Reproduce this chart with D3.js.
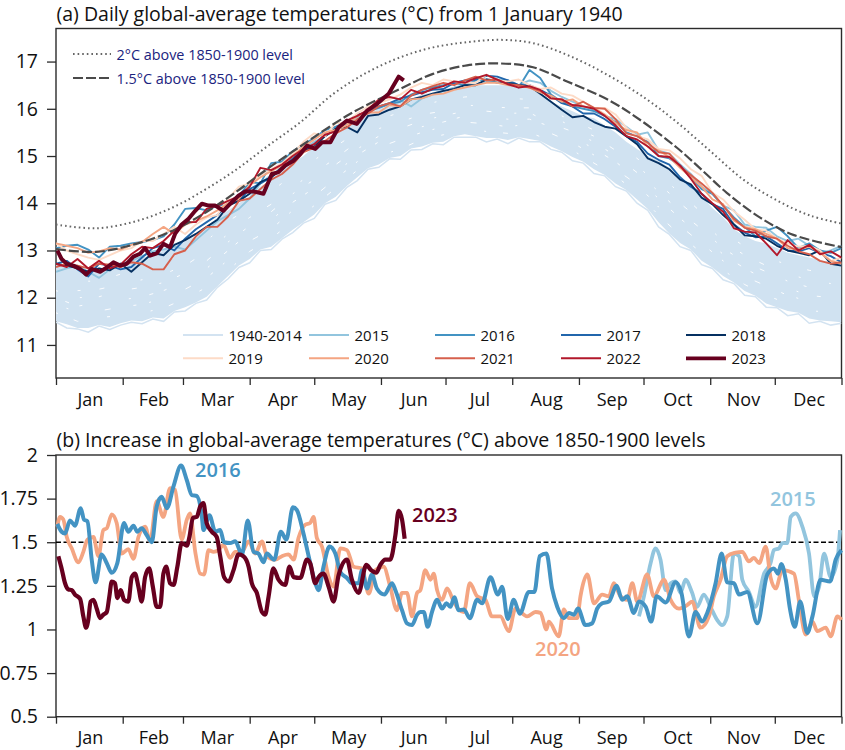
<!DOCTYPE html>
<html><head><meta charset="utf-8">
<script src="https://cdnjs.cloudflare.com/ajax/libs/d3/7.8.5/d3.min.js"></script>
<style>html,body{margin:0;padding:0;background:#fff}svg{display:block}text{font-family:"Open Sans",sans-serif;fill:#111}</style>
</head><body><svg id="c" width="845" height="750"></svg>
<script>
const monthNames=["Jan","Feb","Mar","Apr","May","Jun","Jul","Aug","Sep","Oct","Nov","Dec"];
const monthStarts=[0,31,59,90,120,151,181,212,243,273,304,334,365];
const yTicksA=[11,12,13,14,15,16,17];
const yTicksB=[0.5,0.75,1,1.25,1.5,1.75,2];
const yearsLegend=["1940-2014","2015","2016","2017","2018","2019","2020","2021","2022","2023"];
const yearColors=["#d3e3f1","#92c5de","#4393c3","#2166ac","#053061","#fddbc7","#f4a582","#d6604d","#b2182b","#67001f"];
const gridDays=d3.range(0,366,5);
const tenDays=d3.range(0,361,10);

// reference curves (day, degC)
const ref2Days=[0,18.6,37.2,54.2,69,84,98,113.4,129,144.6,160,175.2,191,206.3,221.7,238.6,257,274.5,288.4,303.9,319.4,335,350.4,365];
const ref2=[13.55,13.47,13.62,13.91,14.28,14.72,15.2,15.71,16.32,16.77,17.09,17.3,17.41,17.46,17.39,17.12,16.7,16.2,15.72,15.11,14.5,14.06,13.74,13.57];
const ref15Days=[0,18.6,37.2,54.2,69.7,84,98,113.4,136.6,159.9,175.2,191,206.3,221.7,237.5,257.4,272.8,288.4,300.7,311.7,327,342.6,365];
const ref15=[13.03,12.97,13.14,13.42,13.81,14.25,14.72,15.2,15.89,16.42,16.74,16.92,16.96,16.88,16.58,16.17,15.72,15.18,14.68,14.22,13.7,13.33,13.07];

// 1940-2014 envelope on the 5-day grid
const bandLow=[11.48,11.36,11.34,11.27,11.4,11.33,11.42,11.48,11.45,11.55,
11.5,11.7,11.72,11.88,11.95,12.22,12.4,12.64,12.74,13.0,
13.02,13.24,13.38,13.58,13.68,13.98,14.06,14.33,14.48,14.72,
14.76,14.94,14.93,15.13,15.14,15.26,15.24,15.4,15.4,15.4,
15.3,15.36,15.26,15.38,15.3,15.3,15.14,15.08,14.9,14.85,
14.63,14.58,14.35,14.26,14.0,13.85,13.5,13.34,13.08,13.0,
12.7,12.62,12.38,12.3,12.05,12.02,11.8,11.79,11.62,11.66,
11.46,11.5,11.42,11.46];
const bandFill=[11.5,11.44,11.36,11.36,11.42,11.38,11.46,11.52,11.5,11.58,
11.56,11.72,11.8,11.9,12.02,12.24,12.46,12.68,12.82,13.02,
13.08,13.26,13.44,13.6,13.76,14.0,14.14,14.36,14.55,14.74,
14.82,14.96,15.0,15.16,15.2,15.28,15.3,15.42,15.46,15.42,
15.38,15.38,15.34,15.4,15.36,15.32,15.2,15.1,14.98,14.88,
14.72,14.6,14.42,14.28,14.08,13.88,13.6,13.36,13.16,13.02,
12.78,12.64,12.46,12.32,12.14,12.04,11.88,11.8,11.72,11.68,
11.56,11.52,11.5,11.48];
const bandHigh=[12.7,12.65,12.6,12.55,12.6,12.65,12.75,12.8,12.85,12.9,
13.0,13.1,13.2,13.3,13.5,13.7,13.85,14.0,14.15,14.35,
14.5,14.7,14.85,15.0,15.2,15.3,15.45,15.6,15.75,15.9,
16.0,16.05,16.15,16.2,16.3,16.35,16.4,16.42,16.45,16.5,
16.5,16.5,16.5,16.45,16.45,16.3,16.15,16.05,15.95,15.85,
15.8,15.65,15.5,15.3,15.15,15.0,14.9,14.75,14.55,14.35,
14.15,13.9,13.7,13.45,13.3,13.2,13.15,13.05,12.95,12.9,
12.85,12.8,12.75,12.75];
// gaps between the densely packed 1940-2014 traces, on a 10-day grid
const gap1=[11.68,11.5,11.58,11.62,11.68,11.78,11.98,12.22,12.58,12.98,13.25,13.62,13.95,14.32,14.7,15.0,15.15,15.35,15.45,15.58,15.52,15.48,15.5,15.32,15.12,14.85,14.58,14.22,13.75,13.32,12.95,12.58,12.28,12.05,11.88,11.72,11.7];
const gap2=[11.85,11.7,11.72,11.8,11.86,11.98,12.18,12.42,12.8,13.2,13.45,13.85,14.15,14.52,14.88,15.18,15.35,15.5,15.62,15.72,15.68,15.62,15.68,15.48,15.28,15.02,14.72,14.4,13.92,13.52,13.15,12.78,12.45,12.25,12.05,11.92,11.85];
const gap3=[12.0,11.82,11.9,11.95,12.02,12.15,12.35,12.62,13.0,13.38,13.65,14.02,14.32,14.65,15.02,15.3,15.45,15.62,15.72,15.85,15.82,15.78,15.78,15.62,15.42,15.15,14.88,14.52,14.1,13.68,13.3,12.92,12.62,12.38,12.2,12.05,12.0];
const gap4=[12.15,12.0,12.02,12.15,12.22,12.32,12.52,12.78,13.18,13.52,13.82,14.2,14.5,14.82,15.15,15.42,15.58,15.75,15.85,15.95,15.95,15.9,15.92,15.68,15.52,15.3,15.0,14.65,14.25,13.82,13.45,13.05,12.75,12.55,12.35,12.22,12.12];
const gap5=[12.32,12.15,12.18,12.28,12.38,12.5,12.68,12.98,13.35,13.7,13.98,14.35,14.65,14.95,15.3,15.58,15.72,15.88,15.95,16.08,16.05,16.02,16.02,15.85,15.62,15.42,15.12,14.78,14.42,14.0,13.62,13.2,12.9,12.68,12.5,12.38,12.3];
const gap6=[12.48,12.35,12.35,12.5,12.6,12.75,12.95,13.2,13.62,13.9,14.25,14.6,14.92,15.2,15.52,15.78,15.92,16.08,16.18,16.25,16.28,16.22,16.2,15.95,15.75,15.55,15.28,14.95,14.6,14.22,13.8,13.4,13.08,12.85,12.7,12.58,12.5];

const a2015=[12.55,12.62,12.68,12.55,12.42,12.6,12.72,12.78,12.88,12.98,
13.02,13.08,13.02,13.22,13.42,13.62,13.75,13.88,14.1,14.42,
14.6,14.72,14.95,15.15,15.3,15.42,15.55,15.68,15.82,15.95,
16.02,16.12,16.18,16.05,16.22,16.3,16.38,16.45,16.5,16.52,
16.58,16.62,16.6,16.5,16.6,16.55,16.38,16.25,16.15,16.05,
15.98,15.85,15.78,15.62,15.45,15.5,15.12,15.05,14.82,14.62,
14.35,14.2,13.95,13.85,13.55,13.5,13.48,13.3,13.2,13.25,
13.1,12.95,13.0,13.1];
const a2016=[13.05,13.1,13.12,13.02,12.85,13.08,13.1,13.15,13.18,13.22,
13.3,13.55,13.88,13.9,13.85,13.95,13.98,14.15,14.45,14.42,
14.85,14.88,15.1,15.25,15.38,15.55,15.62,15.72,15.85,15.95,
16.02,16.1,16.15,16.3,16.4,16.45,16.5,16.55,16.5,16.6,
16.62,16.55,16.6,16.45,16.82,16.65,16.3,16.15,16.05,16.0,
15.95,15.85,15.72,15.5,15.42,15.3,15.0,14.95,14.8,14.55,
14.3,14.2,13.95,13.7,13.5,13.3,13.42,13.5,13.3,13.05,
13.15,13.0,12.95,13.05];
const a2017=[12.72,12.78,12.6,12.45,12.72,12.68,12.6,12.65,12.85,13.05,
13.12,13.0,13.25,13.45,13.6,13.75,13.98,14.05,14.3,14.42,
14.55,14.78,14.95,15.12,15.25,15.45,15.55,15.72,15.88,15.92,
16.05,16.12,16.22,16.28,16.35,16.4,16.42,16.55,16.6,16.62,
16.7,16.68,16.6,16.5,16.5,16.4,16.28,16.12,16.05,15.9,
15.9,15.78,15.62,15.42,15.3,15.05,14.92,14.82,14.55,14.35,
14.2,13.98,13.88,13.55,13.38,13.28,13.3,13.15,13.0,12.98,
13.05,12.95,12.88,12.75];
const a2018=[12.72,12.68,12.62,12.55,12.62,12.58,12.72,12.55,12.75,12.95,
12.9,13.12,13.22,13.35,13.5,13.65,13.95,14.05,14.2,14.45,
14.55,14.72,14.9,15.1,15.2,15.42,15.58,15.62,15.5,15.85,
15.88,15.98,16.05,16.2,16.25,16.32,16.38,16.42,16.5,16.5,
16.62,16.6,16.55,16.5,16.48,16.32,16.15,15.98,15.82,15.85,
15.72,15.62,15.58,15.42,15.25,14.95,14.85,14.72,14.5,14.4,
14.12,13.98,13.75,13.55,13.32,13.3,13.25,13.1,13.0,12.95,
12.9,13.0,12.72,12.68];
const a2019=[13.15,13.0,12.92,12.85,12.8,12.9,13.0,13.05,13.2,13.2,
13.35,13.5,13.35,13.55,13.7,13.75,14.1,14.35,14.42,14.6,
14.72,14.85,15.05,15.3,15.48,15.42,15.7,15.7,15.9,16.05,
16.12,16.2,16.3,16.45,16.55,16.5,16.62,16.58,16.55,16.55,
16.72,16.6,16.58,16.62,16.5,16.42,16.45,16.32,16.28,16.15,
16.0,16.02,15.88,15.6,15.42,15.35,15.15,15.12,14.95,14.72,
14.58,14.22,14.08,13.83,13.65,13.45,13.42,13.25,13.15,13.08,
13.1,13.0,12.78,12.85];
const a2020=[13.15,13.1,13.05,12.95,12.98,13.05,13.02,13.12,13.18,13.35,
13.5,13.35,13.55,13.62,13.72,13.85,14.0,14.1,14.38,14.55,
14.68,14.8,15.0,15.2,15.35,15.5,15.55,15.65,15.85,15.92,
15.92,16.08,16.05,16.2,16.22,16.3,16.32,16.4,16.45,16.5,
16.55,16.55,16.5,16.48,16.45,16.35,16.28,16.15,16.2,16.05,
16.02,15.88,15.7,15.55,15.5,15.2,15.12,14.98,14.75,14.55,
14.35,14.08,13.98,13.63,13.5,13.45,13.35,13.25,13.05,13.02,
13.08,12.95,12.78,12.72];
const a2021=[12.65,12.72,12.68,12.62,12.72,12.7,12.65,12.75,12.72,12.6,
12.6,12.92,13.0,13.3,13.5,13.5,13.72,14.05,14.1,14.3,
14.5,14.62,14.82,15.08,15.18,15.32,15.48,15.6,15.78,15.9,
16.05,16.12,16.05,16.28,16.4,16.48,16.55,16.5,16.6,16.68,
16.6,16.62,16.52,16.5,16.45,16.38,16.22,16.2,16.05,16.15,
16.02,16.0,15.78,15.48,15.42,15.28,15.08,15.05,14.78,14.6,
14.42,14.22,13.95,13.67,13.48,13.42,13.3,13.25,13.1,12.98,
12.92,12.78,12.72,12.75];
const a2022=[12.72,12.65,12.82,12.62,12.78,12.62,12.7,12.92,13.08,13.05,
13.2,13.42,13.6,13.6,13.88,13.95,14.05,14.15,14.35,14.75,
14.7,14.82,15.0,15.15,15.25,15.45,15.52,15.75,15.85,15.98,
16.2,16.25,16.2,16.4,16.32,16.42,16.48,16.58,16.55,16.65,
16.72,16.62,16.52,16.45,16.48,16.4,16.22,16.2,16.08,16.05,
16.0,15.85,15.65,15.42,15.35,15.2,15.0,14.98,14.8,14.52,
14.2,14.0,13.82,13.47,13.4,13.38,13.15,12.9,13.22,13.0,
13.12,12.92,12.98,12.85];
const days2023a=[0.6,2.6,5,8,11.2,14,16.6,20.5,23.6,26.7,29.8,32.9,36,39,41.4,43.7,46.8,49.9,53,55.3,58.4,61.6,64.7,67.8,70.9,74,77.8,81,84.8,87.9,91.8,96.4,100.3,103.4,106.5,110.4,113.5,116.6,120.5,123.6,127.5,131.3,135.2,139.8,144.5,149.1,154.6,159.2,161.6];
const a2023=[13,12.82,12.72,12.68,12.61,12.49,12.61,12.55,12.64,12.75,12.68,12.72,12.87,12.93,13.05,12.89,12.94,13.14,13.07,13.35,13.55,13.67,13.84,13.99,13.95,13.95,13.84,13.99,14.16,14.25,14.25,14.2,14.62,14.66,14.8,14.9,15.04,15.22,15.15,15.29,15.29,15.61,15.75,15.68,15.96,16.1,16.32,16.68,16.6];

// panel (b)
const days2015b=[270.9,273.2,276.3,278.6,280.9,283.3,285.6,287.9,290.2,292.5,295.6,297.9,301,304.1,307.2,309.5,311.9,315,317.4,318.9,322,325,329,332,333.6,336,337.5,339.8,341.4,343.7,346.8,349.9,352.3,354.6,356.9,360,363.1,364.3];
const b2015=[1.075,1.19,1.38,1.465,1.4,1.225,1.265,1.275,1.21,1.285,1.21,1.13,1.2,1.13,1.055,1.025,1.075,1.435,1.42,1.285,1.215,1.13,1.32,1.38,1.455,1.465,1.495,1.495,1.645,1.665,1.59,1.435,1.19,1.245,1.435,1.3,1.4,1.57];
const days2016b=[0.6,2.6,4.2,6.5,8.8,11.5,13,14.6,16.6,18.4,21.2,23.6,25.9,28.5,31.6,33.6,36,37.8,39.8,42.2,44.5,46.8,49.1,51.5,54.6,58.1,60.8,63.1,65.4,67.8,68.5,71.3,74,76.3,78.1,80.9,83.3,86.4,89.1,91.8,94.1,96.4,98,101.4,104.5,107,110.1,111.9,115,117.4,120.5,122,124.3,127.1,129.8,132.1,135.2,137.5,140.6,142.2,144.5,146.8,149.1,152.6,156.1,157.7,160.8,163.1,165.4,167.8,
169.3,170.9,172.7,174.7,177.1,179.4,181.4,183.3,185.1,187.1,189.5,192.3,195.7,198,201.9,205.3,207.3,209.9,212.7,215.5,219.7,222.3,224.8,227.9,230.5,232.9,236,238.3,240.6,242.6,246,249.1,251.5,253.8,256.9,260.5,263.1,265.4,268.5,270.9,274,276.6,279.1,283.3,287.9,290.6,294.1,297.2,300.3,302.6,306.5,309.3,311.9,315,317.4,321.2,325.9,330.5,333.6,335.5,337,339.1,341.1,343.3,345.8,349.1,351.5,355.3,359.7,362.3,365];
const b2016=[1.605,1.56,1.55,1.625,1.595,1.695,1.63,1.62,1.4,1.27,1.43,1.38,1.325,1.38,1.61,1.56,1.595,1.56,1.58,1.54,1.5,1.705,1.76,1.695,1.82,1.94,1.855,1.77,1.765,1.645,1.57,1.655,1.56,1.57,1.5,1.495,1.505,1.43,1.625,1.445,1.435,1.385,1.435,1.4,1.56,1.515,1.7,1.685,1.55,1.42,1.265,1.225,1.36,1.475,1.435,1.33,1.295,1.265,1.265,1.34,1.235,1.315,1.235,1.2,1.265,1.225,1.11,1.035,1.025,1.085,
1.1,1.1,1.015,1.1,1.17,1.12,1.15,1.13,1.185,1.11,1.115,1.065,1.17,1.15,1.3,1.2,1.245,1.06,1.17,1.09,1.215,1.215,1.42,1.435,1.235,1.13,1.065,1.095,1.085,1.12,1.025,1.035,1.12,1.15,1.16,1.25,1.17,1.19,1.095,1.16,1.13,1.045,1.19,1.155,1.27,1.21,0.96,1.1,1.045,1.095,1.265,1.435,1.27,1.265,1.2,1.215,1.035,1.315,1.35,1.32,1.375,1.285,1.115,1.015,1.16,0.98,1.075,1.285,1.275,1.4,1.455];
const days2020b=[0.6,1.9,3.4,5,7.3,10.4,12.7,14.6,17.4,19.7,22,23.6,25.9,28.2,30.5,33.6,36,38.3,41.4,43.7,46.8,49.9,53,55.3,58.4,60.8,62.3,64.7,67,68.8,70.9,73.2,75.5,77.8,80.9,83.3,86.4,89.5,92.6,95.7,98,101.9,105,108,110.4,112.7,115.8,118.1,119.7,121.2,123.6,126.7,129,132.1,135.2,138.3,142.2,145.3,148.4,152.2,155.3,158.4,160.8,163.1,165.4,167.8,
169.3,171.6,174,175.5,177.1,179.4,181.7,184.8,187.1,189.5,192.3,195.7,199.5,202.6,206.5,210.4,213.5,218.9,222.8,225.1,227.9,229,233.6,236,238.3,242.2,243.7,246.9,250,253.8,256.9,259.2,262.3,265.4,267.8,270.1,274.7,277.8,282.5,285.6,289.5,293.3,295.6,299.5,303.4,305.7,308.8,311.9,315.8,318.9,322,324.3,326.7,329.8,332,334.4,337.5,342.9,345.3,348.4,351.5,353.8,357.7,360,363.1,365];
const b2020=[1.59,1.645,1.63,1.53,1.465,1.385,1.445,1.515,1.53,1.42,1.57,1.58,1.66,1.61,1.435,1.46,1.405,1.53,1.59,1.505,1.735,1.645,1.81,1.8,1.515,1.63,1.665,1.445,1.32,1.315,1.455,1.445,1.455,1.485,1.41,1.445,1.445,1.505,1.435,1.505,1.42,1.4,1.42,1.43,1.4,1.525,1.6,1.61,1.645,1.525,1.475,1.3,1.245,1.465,1.455,1.36,1.35,1.205,1.34,1.36,1.245,1.11,1.21,1.21,1.075,1.21,
1.225,1.34,1.285,1.32,1.225,1.17,1.235,1.16,1.115,1.1,1.265,1.19,1.17,1.075,1.075,0.99,1.12,1.075,1.1,1.095,1,1.045,0.96,1.115,1.065,1.065,1.19,1.315,1.15,1.2,1.19,1.265,1.19,1.17,1.265,1.16,1.315,1.19,1.285,1.17,1.12,1.14,1.16,1.01,1.075,1.19,1.285,1.42,1.44,1.445,1.39,1.41,1.38,1.475,1.3,1.235,1.34,1.32,1.16,0.97,1.045,0.99,1.01,0.96,1.075,1.055];
const days2023b=[1.1,2.6,4.2,5.7,7.3,8.8,11.2,12.7,14,15,16.1,17.4,18.9,20.5,22,23.6,24.8,25.9,27.4,28.5,30.1,31.6,33.6,35.2,36.7,38.3,39.8,41.4,43.3,45,46.8,48.4,49.9,51.2,53,54.6,56.4,58.4,60.8,62,63.6,65.4,67,68.5,70,72.4,74.7,76.3,78.1,80.2,82.5,84.8,87.1,89.5,91,93.3,95.7,97.2,98.8,101,103.4,106.5,108.5,110.4,113.5,116.6,118.1,120.5,122,124.3,126.7,129,131.3,135.2,137.5,140.6,144.2,146.4,148.8,150.7,153,155.3,157.7,159.2,160.8,162];
const b2023=[1.42,1.35,1.265,1.23,1.225,1.2,1.175,1.075,1.01,1.055,1.16,1.17,1.12,1.065,1.085,1.1,1.19,1.275,1.265,1.18,1.225,1.17,1.16,1.3,1.32,1.245,1.16,1.3,1.35,1.245,1.13,1.13,1.32,1.36,1.265,1.255,1.36,1.495,1.48,1.53,1.64,1.645,1.705,1.725,1.61,1.56,1.53,1.42,1.3,1.275,1.34,1.43,1.42,1.36,1.265,1.21,1.1,1.085,1.19,1.35,1.285,1.255,1.36,1.3,1.295,1.4,1.38,1.265,1.3,1.32,1.245,1.16,1.31,1.4,1.285,1.21,1.37,1.34,1.325,1.37,1.4,1.4,1.54,1.68,1.63,1.52];

const svg=d3.select("#c");
const x=d3.scaleLinear().domain([0,365]).range([56,841.5]);
const yA=d3.scaleLinear().domain([10.3,17.7]).range([378,28.5]);
const yB=d3.scaleLinear().domain([0.5,2]).range([716.7,455]);
const frame="#2b2b2b";

function panel(y,ticks,fmt,top,bottom){
  const g=svg.append("g");
  g.append("rect").attr("x",x(0)).attr("y",top).attr("width",x(365)-x(0)).attr("height",bottom-top)
    .attr("fill","none").attr("stroke",frame).attr("stroke-width",1.4);
  const ya=d3.axisLeft(y).tickValues(ticks).tickFormat(fmt).tickSize(9).tickPadding(9);
  const gy=g.append("g").attr("transform",`translate(${x(0)},0)`).call(ya);
  gy.select(".domain").remove();
  gy.selectAll("line").attr("stroke",frame).attr("stroke-width",1.3);
  gy.selectAll("text").style("font-size","19.5px").attr("fill","#111");
  const xa=d3.axisBottom(x).tickValues(monthStarts).tickFormat("").tickSize(7);
  const gx=g.append("g").attr("transform",`translate(0,${bottom})`).call(xa);
  gx.select(".domain").remove();
  gx.selectAll("line").attr("stroke",frame).attr("stroke-width",1.3);
  g.selectAll("text.m").data(monthNames).join("text").attr("class","m")
    .attr("x",(d,i)=>x((monthStarts[i]+monthStarts[i+1])/2)+1).attr("y",bottom+27.5)
    .attr("text-anchor","middle").style("font-size","18px").text(d=>d);
}
panel(yA,yTicksA,d3.format("d"),28.5,378);
panel(yB,yTicksB,d=>String(d),455,716.7);

svg.append("text").attr("x",56.5).attr("y",21).style("font-size","19.5px").text("(a) Daily global-average temperatures (°C) from 1 January 1940");
svg.append("text").attr("x",56.5).attr("y",446.5).style("font-size","19.5px").text("(b) Increase in global-average temperatures (°C) above 1850-1900 levels");

// panel (a) marks
svg.append("clipPath").attr("id","pa").append("rect").attr("x",x(0)).attr("y",28.5).attr("width",x(365)-x(0)).attr("height",349.5);
const gA=svg.append("g").attr("clip-path","url(#pa)");
const area=d3.area().x((d,i)=>x(gridDays[i])).y0((d,i)=>yA(bandFill[i])).y1((d,i)=>yA(bandHigh[i]));
gA.append("path").datum(bandFill).attr("d",area).attr("fill","#d0e2f1");
const gridLine=d3.line().x((d,i)=>x(gridDays[i])).y(d=>yA(d));
gA.append("path").attr("d",gridLine(bandLow)).attr("fill","none").attr("stroke","#d3e3f1").attr("stroke-width",1.5);
const gapLine=d3.line().x((d,i)=>x(tenDays[i])).y(d=>yA(d));
[[gap1,"2 17 5 29 3 41",0],[gap2,"3 13 2 37 6 23",5],[gap3,"2 19 4 11 3 47",11],[gap4,"5 23 2 17 3 31",3],[gap5,"2 29 3 19 5 37",8],[gap6,"3 43 2 27 4 53",13]].forEach(p=>
  gA.append("path").attr("d",gapLine(p[0])).attr("fill","none").attr("stroke","#fff").attr("stroke-width",0.9).attr("stroke-dasharray",p[1]).attr("stroke-dashoffset",p[2]));
const annual=[a2015,a2016,a2017,a2018,a2019,a2020,a2021,a2022];
annual.forEach((s,i)=>gA.append("path").attr("d",gridLine(s)).attr("fill","none").attr("stroke",yearColors[i+1]).attr("stroke-width",1.9).attr("stroke-linejoin","round"));
const curveLine=days=>d3.line().x((d,i)=>x(days[i])).y(d=>yA(d)).curve(d3.curveCatmullRom);
gA.append("path").attr("d",curveLine(ref2Days)(ref2)).attr("fill","none").attr("stroke","#666").attr("stroke-width",2).attr("stroke-dasharray","1.6 3");
gA.append("path").attr("d",curveLine(ref15Days)(ref15)).attr("fill","none").attr("stroke","#4a4a4a").attr("stroke-width",2.2).attr("stroke-dasharray","10 3");
const l2023=d3.line().x((d,i)=>x(days2023a[i])).y(d=>yA(d));
gA.append("path").attr("d",l2023(a2023)).attr("fill","none").attr("stroke","#67001f").attr("stroke-width",4).attr("stroke-linejoin","round");

// reference keys
svg.append("line").attr("x1",73).attr("x2",111).attr("y1",54).attr("y2",54).attr("stroke","#666").attr("stroke-width",2).attr("stroke-dasharray","1.6 3");
svg.append("line").attr("x1",73).attr("x2",111).attr("y1",78).attr("y2",78).attr("stroke","#4a4a4a").attr("stroke-width",2.2).attr("stroke-dasharray","10 3");
svg.append("text").attr("x",116.5).attr("y",60).style("font-size","14.4px").style("fill","#1a237e").text("2°C above 1850-1900 level");
svg.append("text").attr("x",116.5).attr("y",84).style("font-size","14.4px").style("fill","#1a237e").text("1.5°C above 1850-1900 level");

// legend
const legX=[183,309,435,561,686];
yearsLegend.forEach((t,i)=>{
  const c=i%5,r=Math.floor(i/5),yy=335+r*23.3;
  svg.append("line").attr("x1",legX[c]).attr("x2",legX[c]+40).attr("y1",yy).attr("y2",yy)
    .attr("stroke",yearColors[i]).attr("stroke-width",t==="2023"?3.8:1.9);
  svg.append("text").attr("x",legX[c]+45.5).attr("y",yy+6).style("font-size","15px").text(t);
});

// panel (b) marks
svg.append("line").attr("x1",x(0)).attr("x2",x(365)).attr("y1",yB(1.5)).attr("y2",yB(1.5)).attr("stroke","#000").attr("stroke-width",1.4).attr("stroke-dasharray","5 2.5");
const lineB=(days,vals,col,w)=>svg.append("path").attr("d",d3.line().x((d,i)=>x(days[i])).y(d=>yB(d)).curve(d3.curveMonotoneX)(vals))
  .attr("fill","none").attr("stroke",col).attr("stroke-width",w).attr("stroke-linejoin","round");
lineB(days2015b,b2015,"#92c5de",3.8);
lineB(days2020b,b2020,"#f4a582",3.8);
lineB(days2016b,b2016,"#4393c3",4);
lineB(days2023b,b2023,"#67001f",4.2);
const labelsB=[["2016",195,477,"#4393c3"],["2023",412,522,"#67001f"],["2020",535,656,"#f4a582"],["2015",770,506,"#92c5de"]];
labelsB.forEach(l=>svg.append("text").attr("x",l[1]).attr("y",l[2]).style("font-size","20px").style("font-weight",600).style("fill",l[3]).text(l[0]));
</script></body></html>
